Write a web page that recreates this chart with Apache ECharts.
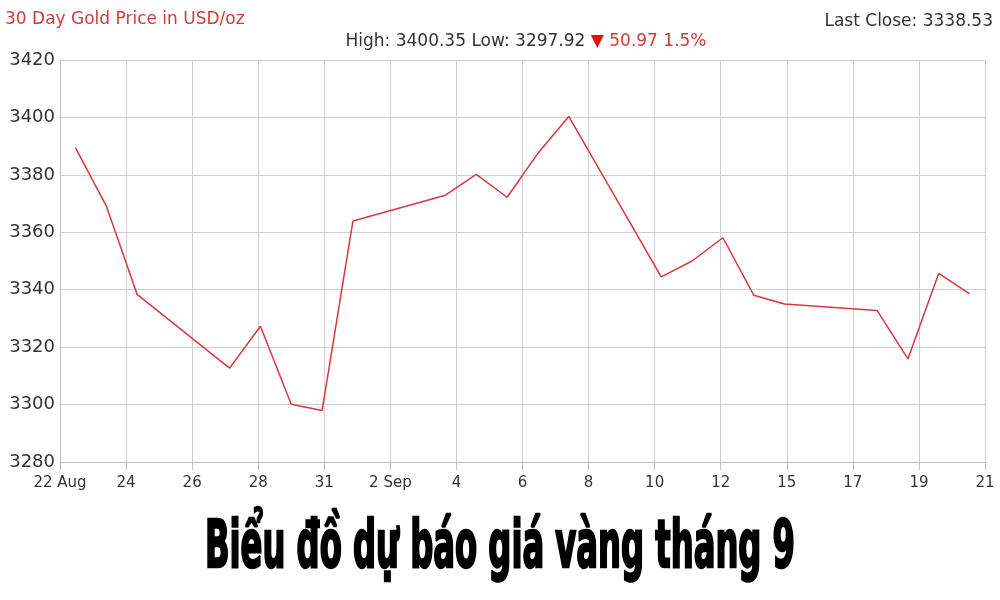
<!DOCTYPE html>
<html>
<head>
<meta charset="utf-8">
<style>html,body{margin:0;padding:0;background:#fff}#c{width:1000px;height:600px}</style>
<script src="https://cdn.jsdelivr.net/npm/echarts@6/dist/echarts.min.js"></script>
</head>
<body>
<div id="c"></div>
<script>
// Day offsets (from 22 Aug) of each trading-day observation
const dayOffsets = [0, 1, 2, 5, 6, 7, 8, 9, 12, 13, 14, 15, 16, 19, 20, 21, 22, 23, 26, 27, 28, 29];
// Gold price (USD/oz)
const prices = [3389.50, 3369.2, 3338.4, 3312.7, 3327.3, 3300.1, 3297.92, 3363.9, 3372.9, 3380.2, 3372.2, 3387.5, 3400.35, 3344.5, 3350.0, 3358.1, 3338.1, 3335.0, 3332.8, 3315.9, 3345.7, 3338.53];
// x-axis tick labels (evenly spaced ticks)
const tickLabels = ['22 Aug', '24', '26', '28', '31', '2 Sep', '4', '6', '8', '10', '12', '15', '17', '19', '21'];
const periodDays = 30;

const titleText = '30 Day Gold Price in USD/oz';
const highLow = 'High: 3400.35 Low: 3297.92 ';
const changeText = '50.97 1.5%';
const lastClose = 'Last Close: 3338.53';
const bottomTitle = 'Biểu đồ dự báo giá vàng tháng 9';

const nTicks = tickLabels.length - 1;
const seriesData = dayOffsets.map((d, i) => [(d + 0.5) * nTicks / periodDays, prices[i]]);

// fit bottom title width
const bigFamily = '"DejaVu Sans Condensed", "DejaVu Sans", sans-serif';
const cv = document.createElement('canvas').getContext('2d');
cv.font = 'bold 66px ' + bigFamily;
const bigW = cv.measureText(bottomTitle).width;
const targetW = 590;
const sx = targetW / bigW;

const fam = 'DejaVu Sans';
const txt = (fill, size) => ({fill: fill, fontFamily: fam, fontSize: size});

const chart = echarts.init(document.getElementById('c'), null, {renderer: 'canvas'});
chart.setOption({
  animation: false,
  backgroundColor: '#fff',
  grid: {left: 60, right: 15, top: 60, bottom: 138, containLabel: false},
  xAxis: {
    type: 'value', min: 0, max: nTicks, interval: 1,
    axisLine: {show: true, lineStyle: {color: '#bdbdbd', width: 1}},
    axisTick: {show: true, length: 8, lineStyle: {color: '#bdbdbd'}},
    splitLine: {show: true, lineStyle: {color: '#cfcfcf', width: 1}},
    axisLabel: {
      color: '#333', fontFamily: fam, fontSize: 15, margin: 14,
      formatter: v => tickLabels[Math.round(v)] || ''
    }
  },
  yAxis: {
    type: 'value', min: 3280, max: 3420, interval: 20,
    axisLine: {show: true, lineStyle: {color: '#bdbdbd', width: 1}},
    axisTick: {show: false},
    splitLine: {show: true, lineStyle: {color: '#cfcfcf', width: 1}},
    axisLabel: {color: '#333', fontFamily: fam, fontSize: 18, margin: 5, formatter: v => String(v)}
  },
  series: [{
    type: 'line', data: seriesData, showSymbol: false,
    lineStyle: {color: '#d9363e', width: 1.5}
  }],
  graphic: [
    {type: 'text', left: 5, top: 11, style: Object.assign({text: titleText}, txt('#d23a3a', 17))},
    {type: 'text', right: 7, top: 13, style: Object.assign({text: lastClose}, txt('#333', 17))},
    {type: 'text', x: 526, y: 42, style: {
      text: '{a|' + highLow + '}{t|▼ }{r|' + changeText + '}',
      align: 'center', verticalAlign: 'middle',
      rich: {
        a: txt('#333', 17),
        t: txt('#e01010', 17),
        r: txt('#d23a3a', 17)
      }
    }},
    {type: 'text', x: 500, y: 550, scaleX: sx, scaleY: 1, style: {
      text: bottomTitle, fill: '#000', font: 'bold 66px ' + bigFamily,
      align: 'center', verticalAlign: 'middle', stroke: '#000', lineWidth: 2.5
    }}
  ]
});
</script>
</body>
</html>
